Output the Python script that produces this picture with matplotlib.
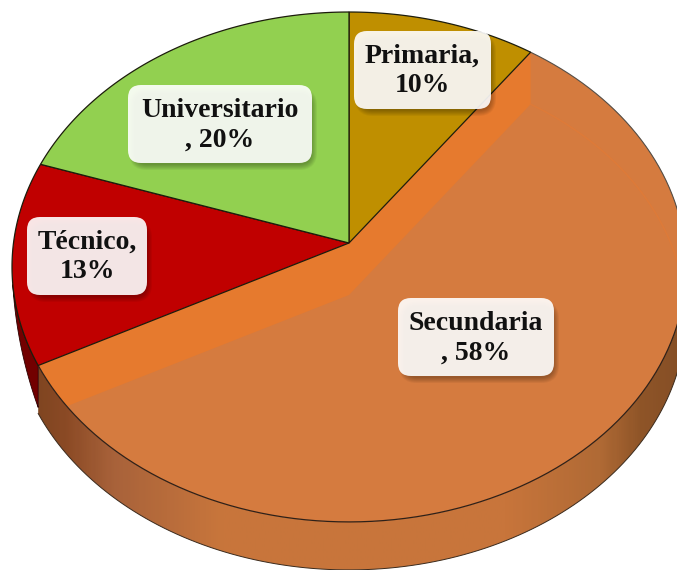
import numpy as np
import matplotlib
matplotlib.use('Agg')
import matplotlib.pyplot as plt
from matplotlib.patches import Polygon, FancyBboxPatch
from matplotlib.colors import LinearSegmentedColormap

# datos del grafico
categories = ['Primaria', 'Secundaria', 'Técnico', 'Universitario']
values = [10, 58, 13, 20]
labels = ['Primaria,\n10%', 'Secundaria\n, 58%', 'Técnico,\n13%', 'Universitario\n, 20%']
colors = ['#bf8f00', '#e67a2e', '#c00000', '#92d050']

plt.rcParams['font.family'] = ['Liberation Serif', 'DejaVu Serif']

W, H = 677, 570
fig = plt.figure(figsize=(W / 100, H / 100), dpi=100)
ax = fig.add_axes([0, 0, 1, 1])
ax.set_xlim(0, W)
ax.set_ylim(H, 0)
ax.axis('off')

# geometria de la torta en perspectiva
cx, cy = 349, 243
rx, ry, k = 335.5, 252.7, 0.094
depth = 48
explode = 52


def rim(theta, dy=0):
    s, c = np.sin(theta), np.cos(theta)
    d = 1 + k * c
    return np.column_stack([cx + rx * s / d, cy - ry * c / d + dy])


def arc(a, b, dy=0):
    return rim(np.linspace(a, b, 160), dy)


# angulos de cada sector, en sentido horario desde arriba
edges = np.concatenate([[0], np.cumsum(values)]) / np.sum(values) * 2 * np.pi
sec_a, sec_b = edges[1], edges[2]
tec_a, tec_b = edges[2], edges[3]
apex = np.array([[cx, cy]])

# costado de la torta
side_pts = np.vstack([arc(np.pi * 0.3, sec_b), arc(np.pi * 0.3, sec_b, depth)[::-1]])
side = Polygon(side_pts, closed=True, fc='none', ec='none')
ax.add_patch(side)
stops = [(0.0, '#7d4420'), (0.05, '#8b4a25'), (0.12, '#a8623a'), (0.28, '#c8763c'), (0.7, '#c8753b'),
         (0.84, '#b06a35'), (0.9, '#8f5528'), (1.0, '#7f4a24')]
grad = LinearSegmentedColormap.from_list('lado', stops)
im = ax.imshow(np.linspace(0, 1, 300).reshape(1, -1), cmap=grad, extent=(30, 710, H, 0),
               aspect='auto', zorder=1)
im.set_clip_path(side)
ax.set_xlim(0, W)
ax.set_ylim(H, 0)
ax.plot(*arc(np.pi * 0.3, sec_b, depth).T, color='#3a2a1c', lw=0.7, zorder=2)

# costado rojo oscuro, se afina hacia arriba
red_top = arc(tec_a, tec_a + 0.32)
red_low = arc(tec_a, tec_a + 0.32, np.linspace(42, 0, 160))
ax.add_patch(Polygon(np.vstack([red_top, red_low[::-1]]), closed=True,
                     fc='#720000', ec='#2a0000', lw=0.6, zorder=2))

# sector secundaria: banda brillante y cara desplazada
base_pts = np.vstack([apex, arc(sec_a, sec_b)])
base = Polygon(base_pts, closed=True, fc=colors[1], ec='none', zorder=3)
ax.add_patch(base)
face_pts = np.vstack([[[cx, cy + explode]], rim(np.array([sec_a]), explode), arc(sec_a, sec_b),
                      rim(np.array([sec_b]), explode)])
face = Polygon(face_pts, closed=True, fc='#d57b3f', ec='none', zorder=4)
ax.add_patch(face)
face.set_clip_path(base)
inner = ax.plot(*arc(sec_a, sec_a + 1.5, explode).T, color='#de7a38', lw=1, zorder=5)[0]
inner.set_clip_path(base)
ax.plot(*arc(sec_a, sec_a + 1.2).T, color='#55504a', lw=0.8, zorder=6)
ax.plot(*arc(sec_a + 1.2, sec_b).T, color='#2e2018', lw=0.9, zorder=6)

# los otros sectores
for i in [0, 2, 3]:
    pts = np.vstack([apex, arc(edges[i], edges[i + 1])])
    ax.add_patch(Polygon(pts, closed=True, fc=colors[i], ec='#1c1c0c', lw=0.9, zorder=7))

# etiquetas con caja redondeada y sombra
boxes = [(354, 31, 137, 78), (398, 298, 156, 78), (27, 217, 120, 78), (128, 85, 184, 78)]
for text, (x, y, w, h) in zip(labels, boxes):
    for g in np.linspace(5, 0, 6):
        ax.add_patch(FancyBboxPatch((x + 11, y + 13), w - 16, h - 16,
                                    boxstyle=f'round,pad={5 + g},rounding_size={13 + g}',
                                    fc='black', ec='none', alpha=0.05, zorder=8))
    ax.add_patch(FancyBboxPatch((x + 10, y + 10), w - 20, h - 20,
                                boxstyle='round,pad=10,rounding_size=13',
                                fc='white', ec='none', alpha=0.9, zorder=9))
    ax.text(x + w / 2, y + h / 2 + 1, text, ha='center', va='center', fontsize=20,
            fontweight='bold', color='#111111', linespacing=1.25, zorder=10)

fig.savefig('out.png', dpi=100)
